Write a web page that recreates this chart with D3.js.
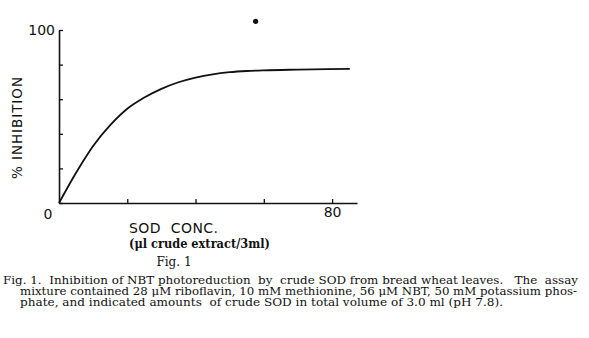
<!DOCTYPE html>
<html>
<head>
<meta charset="utf-8">
<script src="https://cdn.jsdelivr.net/npm/d3@7"></script>
<style>
  html, body { margin: 0; padding: 0; background: #fff; }
  svg { display: block; }
  svg text { white-space: pre; }
</style>
</head>
<body>
<svg id="chart" width="589" height="338"></svg>
<script>
// SOD concentration (µl crude extract / 3 ml) and % inhibition of NBT photoreduction
const sodConc    = [0, 5, 10, 15, 20, 25, 30, 35, 40, 45, 50, 55, 60, 70, 85.2];
const inhibition = [0, 17.5, 33, 45, 54.5, 61, 66, 69.8, 72.5, 74.4, 75.6, 76.3, 76.7, 77.1, 77.5];

// single plotted point above the curve
const pointConc = [57.6];
const pointInh  = [105];

const yTicks = [0, 20, 40, 60, 80, 100];
const xTicks = [0, 20, 40, 60, 80];
const yLabelled = [100];
const xLabelled = [80];

const captionLines = [
  "Fig. 1.  Inhibition of NBT photoreduction  by  crude SOD from bread wheat leaves.   The  assay",
  "mixture contained 28 \u03bcM riboflavin, 10 mM methionine, 56 \u03bcM NBT, 50 mM potassium phos-",
  "phate, and indicated amounts  of crude SOD in total volume of 3.0 ml (pH 7.8)."
];

const svg = d3.select("#chart");
const ink = "#111";
const sans = "'DejaVu Sans', sans-serif";
const serif = "'DejaVu Serif', serif";

const x = d3.scaleLinear().domain([0, 87.3]).range([59, 357]);
const y = d3.scaleLinear().domain([0, 100]).range([203, 30]);

// y axis: ticks point into the plot
const yAxis = svg.append("g")
  .attr("transform", `translate(${x(0)},0)`)
  .call(d3.axisLeft(y).tickValues(yTicks).tickSize(-4).tickSizeOuter(0).tickPadding(4)
    .tickFormat(d => yLabelled.includes(d) ? d : ""));

// x axis: ticks point up into the plot
const xAxis = svg.append("g")
  .attr("transform", `translate(0,${y(0)})`)
  .call(d3.axisBottom(x).tickValues(xTicks.filter(d => d > 0)).tickSize(-4).tickSizeOuter(0).tickPadding(4)
    .tickFormat(d => xLabelled.includes(d) ? d : ""));

[yAxis, xAxis].forEach(g => {
  g.select(".domain").attr("stroke", ink).attr("stroke-width", 1.6);
  g.selectAll(".tick line").attr("stroke", ink).attr("stroke-width", 1.3);
  g.selectAll(".tick text").attr("fill", ink)
    .style("font-family", sans).style("font-size", "14px");
});

// shared origin label
svg.append("text")
  .attr("x", x(0) - 11).attr("y", y(0) + 15.5)
  .attr("text-anchor", "middle")
  .attr("fill", ink)
  .style("font-family", sans).style("font-size", "14px")
  .text("0");

// inhibition curve
const line = d3.line()
  .x((d, i) => x(sodConc[i]))
  .y(d => y(d))
  .curve(d3.curveMonotoneX);

svg.append("path")
  .datum(inhibition)
  .attr("d", line)
  .attr("fill", "none")
  .attr("stroke", ink)
  .attr("stroke-width", 1.8);

svg.selectAll("circle.pt")
  .data(pointConc)
  .join("circle")
  .attr("class", "pt")
  .attr("cx", d => x(d))
  .attr("cy", (d, i) => y(pointInh[i]))
  .attr("r", 2.6)
  .attr("fill", ink);

// axis titles
svg.append("text")
  .attr("transform", "translate(22,128) rotate(-90)")
  .attr("text-anchor", "middle")
  .attr("fill", ink)
  .style("font-family", sans).style("font-size", "13.5px")
  .attr("textLength", 102).attr("lengthAdjust", "spacing")
  .text("% INHIBITION");

svg.append("text")
  .attr("x", 129).attr("y", 233)
  .attr("fill", ink)
  .style("font-family", sans).style("font-size", "14px")
  .attr("textLength", 89).attr("lengthAdjust", "spacing")
  .text("SOD  CONC.");

svg.append("text")
  .attr("x", 129).attr("y", 248)
  .attr("fill", ink)
  .style("font-family", serif).style("font-size", "12px")
  .style("font-weight", "bold")
  .attr("textLength", 141).attr("lengthAdjust", "spacingAndGlyphs")
  .text("(\u03bcl crude extract/3ml)");

svg.append("text")
  .attr("x", 174).attr("y", 266)
  .attr("text-anchor", "middle")
  .attr("fill", ink)
  .style("font-family", serif).style("font-size", "12px")
  .text("Fig. 1");

// caption
const capX = [3, 20, 20];
const capW = [575, 557, 483];
const capY = [284, 295, 306];
captionLines.forEach((t, i) => {
  svg.append("text")
    .attr("x", capX[i]).attr("y", capY[i])
    .attr("fill", ink)
    .style("font-family", serif).style("font-size", "10.5px")
    .attr("textLength", capW[i]).attr("lengthAdjust", "spacingAndGlyphs")
    .text(t);
});
</script>
</body>
</html>
